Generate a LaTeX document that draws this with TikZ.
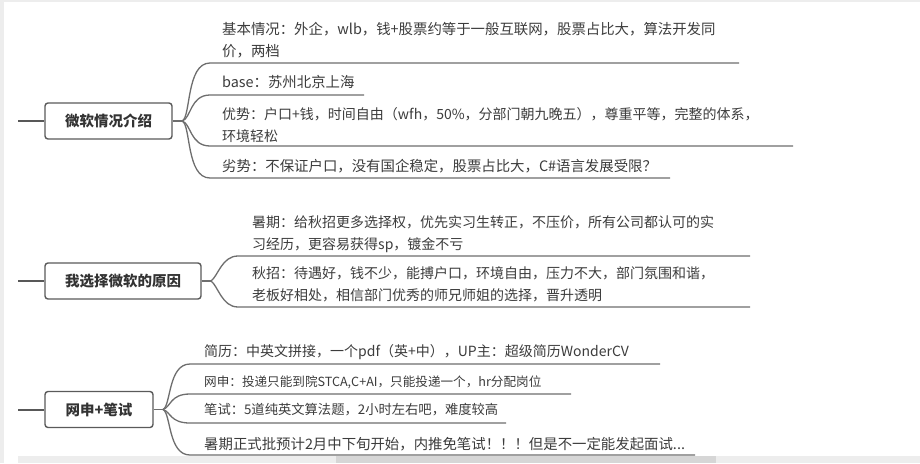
\documentclass[tikz,border=0pt]{standalone}
\usepackage{fontspec}
\setmainfont{Noto Sans CJK SC}
\definecolor{txt}{HTML}{3C3C3C}
\definecolor{ln}{HTML}{6E6E6E}
\definecolor{boxline}{HTML}{5A5A5A}
\definecolor{strip}{HTML}{EDEDED}
\definecolor{thumb}{HTML}{D6D6D6}
\begin{document}
\begin{tikzpicture}[x=1pt,y=-1pt,
  topic/.style={draw=boxline,line width=1.4pt,rounded corners=3pt,fill=white,
    minimum height=36pt,inner sep=0pt,font=\fontsize{14.5}{17}\selectfont\bfseries,text=black!80},
  item/.style={anchor=west,inner sep=0pt,align=left,text=txt,
    font=\fontsize{14}{22}\selectfont},
  wide/.style={font=\fontsize{14.4}{22}\selectfont},
  small/.style={font=\fontsize{13.3}{22}\selectfont},
  smaller/.style={font=\fontsize{12.6}{22}\selectfont},
  branch/.style={draw=ln,line width=1.3pt},
  stub/.style={draw=ln!80!black,line width=2pt}]
\useasboundingbox (0,0) rectangle (920,463);
\fill[white] (0,0) rectangle (920,463);
\fill[strip] (0,0) rectangle (4,463);
\fill[strip] (0,0) rectangle (920,1.5);
\fill[strip] (18,456) rectangle (920,463);
\fill[thumb] (336,456) rectangle (716,463);

% topics
\node[topic,minimum width=127pt] (b1) at (108.5,121) {微软情况介绍};
\node[topic,minimum width=156pt] (b2) at (123,281) {我选择微软的原因};
\node[topic,minimum width=108pt] (b3) at (99,409.5) {网申+笔试};

\coordinate (s1) at (18,121);
\coordinate (s2) at (18,281);
\coordinate (s3) at (18,409.5);
\draw[stub] (s1) -- (b1.west);
\draw[stub] (s2) -- (b2.west);
\draw[stub] (s3) -- (b3.west);

% group 1 texts
\node[item,wide] (t11) at (222,40.5) {基本情况：外企，wlb，钱+股票约等于一般互联网，股票占比大，算法开发同\\价，两档};
\node[item,wide] (t12) at (222,82) {base：苏州北京上海};
\node[item] (t13) at (222,125.5) {优势：户口+钱，时间自由（wfh，50\%，分部门朝九晚五），尊重平等，完整的体系，\\环境轻松};
\node[item,wide] (t14) at (222,166) {劣势：不保证户口，没有国企稳定，股票占比大，C\#语言发展受限？};

\coordinate (j1) at (182,121);
\coordinate (e11) at (739,63);
\coordinate (e12) at (364,95);
\coordinate (e13) at (793,146);
\coordinate (e14) at (670,178);
\draw[branch] (b1.east) -- (j1);
\draw[branch] (j1) .. controls (191,118) and (186,63) .. (210,63) -- (e11);
\draw[branch] (j1) .. controls (191,119) and (190,95) .. (210,95) -- (e12);
\draw[branch] (j1) .. controls (191,123) and (190,146) .. (210,146) -- (e13);
\draw[branch] (j1) .. controls (191,124) and (186,178) .. (210,178) -- (e14);

% group 2 texts
\node[item] (t21) at (252,234.5) {暑期：给秋招更多选择权，优先实习生转正，不压价，所有公司都认可的实\\习经历，更容易获得sp，镀金不亏};
\node[item] (t22) at (252,284) {秋招：待遇好，钱不少，能搏户口，环境自由，压力不大，部门氛围和谐，\\老板好相处，相信部门优秀的师兄师姐的选择，晋升透明};

\coordinate (j2) at (211,281);
\coordinate (e21) at (750,256);
\coordinate (e22) at (750,307);
\draw[branch] (b2.east) -- (j2);
\draw[branch] (j2) .. controls (218,276) and (222,256) .. (238,256) -- (e21);
\draw[branch] (j2) .. controls (218,286) and (222,307) .. (238,307) -- (e22);

% group 3 texts
\node[item] (t31) at (204,352) {简历：中英文拼接，一个pdf（英+中），UP主：超级简历WonderCV};
\node[item,smaller] (t32) at (204,382) {网申：投递只能到院STCA,C+AI，只能投递一个，hr分配岗位};
\node[item,small] (t33) at (204,410) {笔试：5道纯英文算法题，2小时左右吧，难度较高};
\node[item,wide] (t34) at (204,444) {暑期正式批预计2月中下旬开始，内推免笔试！！！但是不一定能发起面试...};

\coordinate (j3) at (163,409.5);
\coordinate (e31) at (660,364);
\coordinate (e32) at (571,394);
\coordinate (e33) at (506,423);
\coordinate (e34) at (695,455);
\draw[branch] (b3.east) -- (j3);
\draw[branch] (j3) .. controls (171,406) and (168,364) .. (190,364) -- (e31);
\draw[branch] (j3) .. controls (171,407) and (170,394) .. (190,394) -- (e32);
\draw[branch] (j3) .. controls (171,412) and (170,423) .. (190,423) -- (e33);
\draw[branch] (j3) .. controls (171,413) and (168,455) .. (190,455) -- (e34);
\end{tikzpicture}
\end{document}
